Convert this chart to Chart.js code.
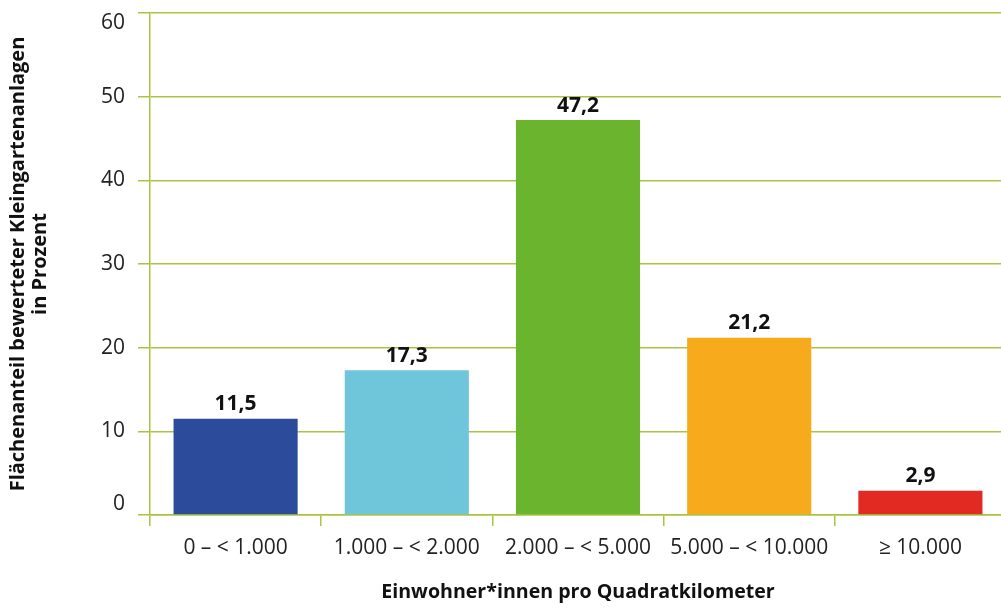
<!DOCTYPE html>
<html lang="de">
<head>
<meta charset="utf-8">
<title>Flächenanteil bewerteter Kleingartenanlagen</title>
<script src="https://cdn.jsdelivr.net/npm/chart.js@4.4.1/dist/chart.umd.min.js"></script>
<style>
  html, body { margin: 0; padding: 0; background: #fff; overflow: hidden; }
  #wrap { width: 1006px; height: 608px; }
</style>
</head>
<body>
<div id="wrap"><canvas id="chart" width="1006" height="608"></canvas></div>
<script>
// Einwohnerdichte-Klassen und Flächenanteile (in Prozent)
const categories = ['0 – < 1.000', '1.000 – < 2.000', '2.000 – < 5.000', '5.000 – < 10.000', '≥ 10.000'];
const shares = [11.5, 17.3, 47.2, 21.2, 2.9];
const barColors = ['#2c4c9b', '#6fc6da', '#6ab42e', '#f7ab1c', '#e32a22'];
const yTicks = [0, 10, 20, 30, 40, 50, 60];
const yTitle = ['Flächenanteil bewerteter Kleingartenanlagen', 'in Prozent'];
const xTitle = 'Einwohner*innen pro Quadratkilometer';

const FONT = "'Open Sans', 'DejaVu Sans', sans-serif";
const GRID = '#a9c443';

// Werte über den Balken, deutsches Dezimalkomma
const valueLabels = {
  id: 'valueLabels',
  afterDatasetsDraw(chart) {
    const ctx = chart.ctx;
    const meta = chart.getDatasetMeta(0);
    ctx.save();
    ctx.font = 'bold 21px ' + FONT;
    ctx.fillStyle = '#111';
    ctx.textAlign = 'center';
    ctx.textBaseline = 'bottom';
    meta.data.forEach((bar, i) => {
      const v = chart.data.datasets[0].data[i];
      ctx.fillText(v.toFixed(1).replace('.', ','), bar.x, bar.y - 4);
    });
    ctx.restore();
  }
};

// Die äußersten Achsenbeschriftungen rücken nach innen (60 nach unten, 0 nach oben)
function yTickLabel(value) {
  const s = String(value);
  if (value === yTicks[yTicks.length - 1]) return ['', s];
  if (value === yTicks[0]) return [s, ''];
  return s;
}

new Chart(document.getElementById('chart'), {
  type: 'bar',
  data: {
    labels: categories,
    datasets: [{
      data: shares,
      backgroundColor: barColors,
      borderWidth: 0,
      categoryPercentage: 1,
      barPercentage: 0.725
    }]
  },
  options: {
    responsive: false,
    animation: false,
    devicePixelRatio: 1,
    layout: { padding: { top: 13, right: 0, left: 0, bottom: 0 } },
    plugins: {
      legend: { display: false },
      tooltip: { enabled: false }
    },
    scales: {
      x: {
        grid: {
          offset: true,
          drawOnChartArea: false,
          drawTicks: true,
          tickLength: 11,
          color: GRID,
          lineWidth: 1.5
        },
        border: { display: true, color: GRID, width: 1.5 },
        ticks: {
          color: '#222',
          padding: 9,
          maxRotation: 0,
          autoSkip: false,
          font: { family: FONT, size: 21 }
        },
        title: {
          display: true,
          text: xTitle,
          color: '#111',
          padding: { top: 0, bottom: 4 },
          font: { family: FONT, size: 19.6, weight: 'bold', lineHeight: 1.2 }
        },
        afterFit(scale) { scale.height = 93; }
      },
      y: {
        min: 0,
        max: 60,
        afterBuildTicks(scale) { scale.ticks = yTicks.map(v => ({ value: v })); },
        grid: {
          drawTicks: true,
          tickLength: 12,
          color: GRID,
          lineWidth: 1.5
        },
        border: { display: true, color: GRID, width: 1.5 },
        ticks: {
          color: '#222',
          padding: 13,
          callback: yTickLabel,
          font: { family: FONT, size: 21, lineHeight: 1.0 }
        },
        title: {
          display: true,
          text: yTitle,
          color: '#111',
          padding: { top: 7, bottom: 0 },
          font: { family: FONT, size: 20, weight: 'bold', lineHeight: 1.1 }
        },
        afterFit(scale) {
          scale.width = 150;
          scale.paddingTop = 0;
          scale.paddingBottom = 0;
        }
      }
    }
  },
  plugins: [valueLabels]
});
</script>
</body>
</html>
